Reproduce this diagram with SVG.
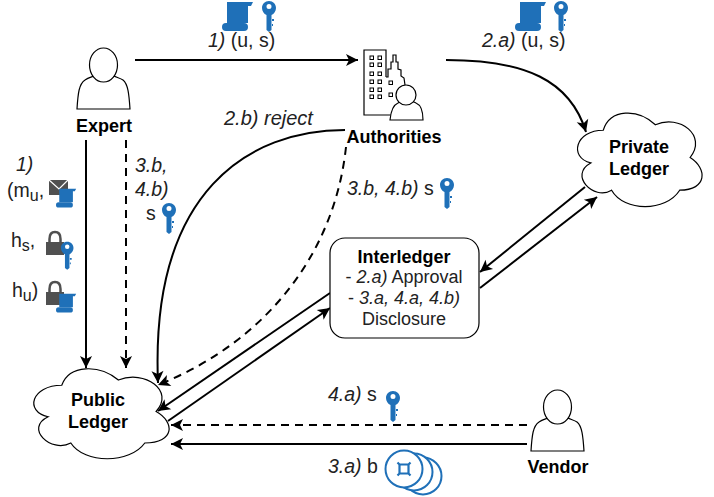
<svg xmlns="http://www.w3.org/2000/svg" width="714" height="497" viewBox="0 0 714 497">
<style>
text{font-family:"Liberation Sans",Arial,sans-serif;font-size:19.500px;fill:#222}
.b{font-weight:bold;font-size:18px;fill:#000;text-anchor:middle}
.m{text-anchor:middle;font-size:18px}
.i{font-style:italic}
.sub{font-size:16px}
.c{fill:none;stroke:#000;stroke-width:2}
.d{stroke-dasharray:8 6}
.o{fill:#fff;stroke:#000;stroke-width:1.2}
.blue{fill:#1f70b8}
.dark{fill:#505050}
</style>
<defs>
<marker id="a" markerUnits="userSpaceOnUse" markerWidth="16" markerHeight="14" refX="13" refY="7" orient="auto"><path d="M1 1L13 7L1 13L4 7Z" fill="#000"/></marker>
<path id="cloud" vector-effect="non-scaling-stroke" d="M25 25C5 25 0 50 16 55C0 66 18 90 31 80C40 100 70 100 80 80C100 80 100 60 87.500 50C100 30 80 10 62.500 20C50 5 30 5 25 25Z"/>
<g id="person"><path d="M2 61C3 45 4 36 10 32C14 29 18 29 21 27C26 32 32 32 37 27C40 29 45 30 48 32C53 36 54 46 55 61Z" fill="#fff" stroke="#000" stroke-width="1.2"/><ellipse cx="28.500" cy="17" rx="14" ry="17" fill="#fff" stroke="#000" stroke-width="1.2"/></g>
<path id="key" class="blue" fill-rule="evenodd" d="M7 0C11 0 14 3 14 7C14 10 12 13 9.500 14V29L7 31L4.500 29V14C2 13 0 10 0 7C0 3 3 0 7 0ZM7 3A2.500 2.500 0 1 0 7 8A2.500 2.500 0 1 0 7 3ZM9 18H12V20H9ZM9 23H11V25H9Z"/>
<g id="scroll"><path class="blue" d="M5 1H31L29 5H26V22H5Z"/><rect class="blue" x="0" y="22" width="26" height="8" rx="4"/></g>
<g id="lock"><path d="M3.500 12V8C3.500 3 6 1 9 1C12 1 14.500 3 14.500 8V12" fill="none" stroke="#505050" stroke-width="2.500"/><rect class="dark" x="0" y="11" width="18" height="13"/></g>
</defs>
<g id="connectors">
<path class="c" marker-end="url(#a)" d="M135 60H358"/>
<path class="c" marker-end="url(#a)" d="M446 60C525 60 570 80 586 132"/>
<path class="c" marker-end="url(#a)" d="M86 140V368"/>
<path class="c d" marker-end="url(#a)" d="M126 140V368"/>
<path class="c" marker-end="url(#a)" d="M345 130C250 130 150 190 158 383"/>
<path class="c d" marker-end="url(#a)" d="M346 147C335 250 270 340 158 385"/>
<path class="c" marker-end="url(#a)" d="M585 187L480 272"/>
<path class="c" marker-end="url(#a)" d="M480 288L597 197"/>
<path class="c" marker-end="url(#a)" d="M330 293L158 411"/>
<path class="c" marker-end="url(#a)" d="M168 421L330 308"/>
<path class="c d" marker-end="url(#a)" d="M527 425H171"/>
<path class="c" marker-end="url(#a)" d="M527 444H171"/>
</g>
<g id="expert">
<use href="#person" x="75" y="48"/>
<text class="b" x="104" y="132">Expert</text>
</g>
<g id="vendor">
<use href="#person" x="529" y="390"/>
<text class="b" x="558" y="473">Vendor</text>
</g>
<g id="authorities">
<path d="M386 77V50H364V115H392" fill="none" stroke="#000" stroke-width="1.200"/>
<path d="M386 77L388 77V69L391 69V62L393 62V55H396V62L398 62V69L401 70V76L404 78L405 85" fill="none" stroke="#000" stroke-width="1.200"/>
<g fill="none" stroke="#000"><rect x="370" y="56" width="3.500" height="3.500"/><rect x="378" y="56" width="3.500" height="3.500"/><rect x="370" y="63" width="3.500" height="3.500"/><rect x="378" y="63" width="3.500" height="3.500"/><rect x="370" y="72" width="3.500" height="3.500"/><rect x="378" y="72" width="3.500" height="3.500"/><rect x="370" y="80" width="3.500" height="3.500"/><rect x="378" y="80" width="3.500" height="3.500"/><rect x="370" y="88" width="3.500" height="3.500"/><rect x="378" y="88" width="3.500" height="3.500"/><rect x="370" y="95" width="3.500" height="3.500"/><rect x="378" y="95" width="3.500" height="3.500"/><rect x="389" y="81" width="3.500" height="3.500"/><rect x="389" y="93" width="3.500" height="3.500"/></g>
<path class="o" d="M390 120C391 110 393 105 398 103L402 101C405 104 409 104 412 101L416 103C421 105 423 110 423 120Z"/>
<circle class="o" cx="406" cy="95" r="10"/>
<text class="b" x="394" y="143">Authorities</text>
</g>
<g id="private-ledger">
<use href="#cloud" class="o" transform="translate(568.500 103) scale(1.390 1.090)"/>
<text class="b" x="639" y="153">Private</text>
<text class="b" x="639" y="175">Ledger</text>
</g>
<g id="public-ledger">
<use href="#cloud" class="o" transform="translate(24 359) scale(1.510 1.050)"/>
<text class="b" x="98" y="406">Public</text>
<text class="b" x="98" y="428">Ledger</text>
</g>
<g id="interledger">
<rect class="o" x="330" y="238" width="149" height="100" rx="15"/>
<text class="b" x="404" y="263">Interledger</text>
<text class="m" x="404" y="283">- <tspan class="i">2.a)</tspan> Approval</text>
<text class="m" x="404" y="304">- <tspan class="i">3.a, 4.a, 4.b)</tspan></text>
<text class="m" x="404" y="325">Disclosure</text>
</g>
<g id="labels">
<use href="#scroll" x="222" y="1"/><use href="#key" x="262" y="1"/>
<text x="208" y="47"><tspan class="i">1)</tspan> (u, s)</text>
<use href="#scroll" x="515" y="1"/><use href="#key" x="554" y="1"/>
<text x="482" y="47"><tspan class="i">2.a)</tspan> (u, s)</text>
<text class="i" x="224" y="125" style="font-size:20px">2.b) reject</text>
<text x="347" y="195"><tspan class="i">3.b, 4.b)</tspan> s</text>
<use href="#key" x="440" y="178"/>
<text class="i" x="135" y="172">3.b,</text>
<text class="i" x="135" y="196">4.b)</text>
<text x="146" y="220">s</text>
<use href="#key" x="162" y="203"/>
<text class="i" x="16" y="171">1)</text>
<text x="7" y="197">(m<tspan class="sub" dy="4">u</tspan><tspan dy="-4">,</tspan></text>
<rect class="dark" x="49" y="180" width="19" height="15"/>
<path d="M49 180L59 189L68 180" fill="none" stroke="#fff" stroke-width="1.200"/>
<use href="#scroll" transform="translate(56 188) scale(.65)"/>
<text x="11" y="247">h<tspan class="sub" dy="4">s</tspan><tspan dy="-4">,</tspan></text>
<use href="#lock" x="46" y="231"/>
<use href="#key" x="61" y="242" transform="translate(6 24) scale(.9)"/>
<text x="12" y="297">h<tspan class="sub" dy="4">u</tspan><tspan dy="-4">)</tspan></text>
<use href="#lock" x="46" y="281"/>
<use href="#scroll" transform="translate(56 293) scale(.65)"/>
<text x="328" y="401"><tspan class="i">4.a)</tspan> s</text>
<use href="#key" x="386" y="391"/>
<text x="328" y="473"><tspan class="i">3.a)</tspan> b</text>
<g fill="#fff" stroke="#1f70b8" stroke-width="2"><circle cx="423" cy="476" r="18.500"/><circle cx="414" cy="472" r="18.500"/><circle cx="404" cy="469" r="18.500"/></g>
<path d="M399.500 464.500h9v9h-9zM397.500 462.500l3 3M410.500 462.500l-3 3M397.500 475.500l3-3M410.500 475.500l-3-3" fill="none" stroke="#1f70b8" stroke-width="2.200"/>
</g>
</svg>
